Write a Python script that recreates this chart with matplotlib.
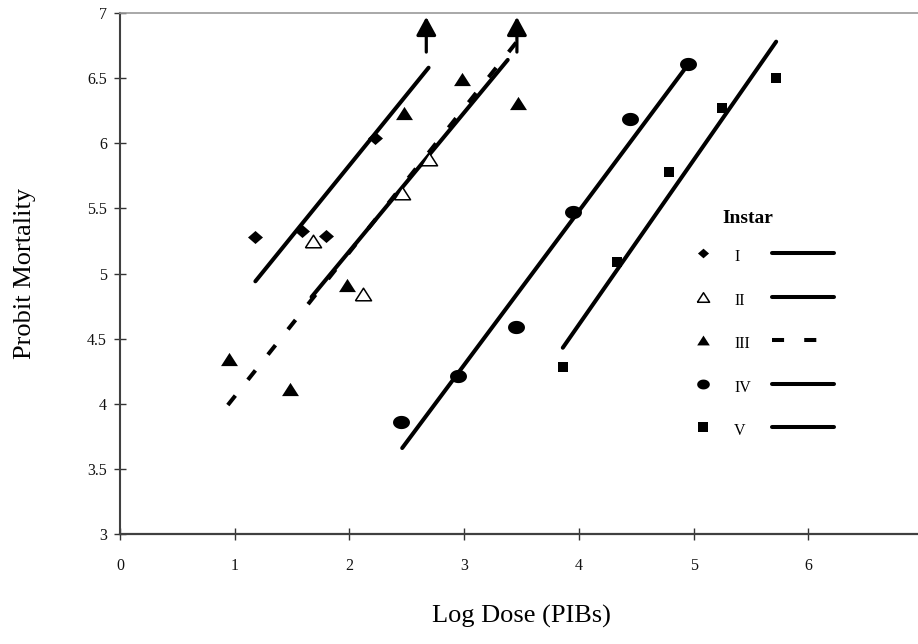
import logging

import numpy as np
import matplotlib as mp
mp.use("Agg")
from matplotlib import pyplot as plt

# --- data ------------------------------------------------------------------
instar_labels = ["I", "II", "III", "IV", "V"]

# observed points (log dose, probit mortality)
inst1_x = [1.18, 1.59, 1.80, 2.22]
inst1_y = [5.28, 5.33, 5.29, 6.04]
inst2_x = [1.68, 2.12, 2.46, 2.69]
inst2_y = [5.25, 4.84, 5.62, 5.88]
inst3_x = [0.95, 1.48, 1.98, 2.48, 2.98, 3.47]
inst3_y = [4.34, 4.11, 4.91, 6.23, 6.49, 6.31]
inst4_x = [2.45, 2.95, 3.45, 3.95, 4.45, 4.95]
inst4_y = [3.86, 4.21, 4.59, 5.47, 6.19, 6.61]
inst5_x = [3.86, 4.33, 4.79, 5.25, 5.72]
inst5_y = [4.28, 5.09, 5.78, 6.27, 6.50]

# fitted probit lines (end points)
fit1_x = [1.18, 2.69]
fit1_y = [4.94, 6.58]
fit2_x = [1.67, 3.38]
fit2_y = [4.82, 6.64]
fit3_x = [0.94, 3.46]
fit3_y = [3.99, 6.78]
fit4_x = [2.46, 4.94]
fit4_y = [3.66, 6.59]
fit5_x = [3.86, 5.72]
fit5_y = [4.43, 6.78]

# arrows: mortality beyond the plotted range
arrow_x = [2.67, 3.46]
arrow_y_from = 6.70
arrow_y_to = 6.97

x_ticks = [0, 1, 2, 3, 4, 5, 6, 7]
y_ticks = [3, 3.5, 4, 4.5, 5, 5.5, 6, 6.5, 7]

# --- marker shapes -----------------------------------------------------------
_t = np.linspace(0, 2 * np.pi, 61)
ELLIPSE = np.column_stack([np.cos(_t), 0.78 * np.sin(_t)])
DIAMOND = [(0, 0.87), (1, 0), (0, -0.87), (-1, 0), (0, 0.87)]
TRIANGLE = [(-1, -0.78), (1, -0.78), (0, 0.78), (-1, -0.78)]

LINE_W = 2.9
DASHES = (3, 5)


def series_styles():
    # (marker, plot size, legend size, face colour, edge width, dashed)
    return [
        (DIAMOND, 10.8, 8.0, "black", 0.0, False),
        (TRIANGLE, 11.6, 8.8, "white", 1.1, False),
        (TRIANGLE, 12.2, 9.1, "black", 0.0, True),
        (ELLIPSE, 12.2, 9.1, "black", 0.0, False),
        ("s", 7.9, 7.4, "black", 0.0, False),
    ]


def draw_fit(ax, x, y, dashed):
    if dashed:
        ax.plot(x, y, color="black", lw=LINE_W, dashes=DASHES,
                dash_capstyle="butt", zorder=2)
    else:
        ax.plot(x, y, color="black", lw=LINE_W, solid_capstyle="round", zorder=2)


def draw_legend(ax):
    styles = series_styles()
    ax.text(0.782, 0.605, "Instar", transform=ax.transAxes, ha="center",
            va="center", fontsize=14, fontweight="bold")
    row_y = 0.539
    step = 0.0835
    for i, (lab, st) in enumerate(zip(instar_labels, styles)):
        marker, _, leg_size, face, mew, dashed = st
        yy = row_y - i * step
        ax.plot([0.726], [yy], transform=ax.transAxes, marker=marker,
                ms=leg_size, mfc=face, mec="black", mew=mew, ls="none",
                clip_on=False)
        ax.text(0.765, yy - 0.008, lab, transform=ax.transAxes, ha="left",
                va="center", fontsize=11.5)
        xs = [0.812, 0.889]
        if dashed:
            ax.plot(xs, [yy, yy], transform=ax.transAxes, color="black",
                    lw=LINE_W, dashes=DASHES, dash_capstyle="butt")
        else:
            ax.plot(xs, [yy, yy], transform=ax.transAxes, color="black",
                    lw=LINE_W, solid_capstyle="round")


def main():
    log = logging.getLogger("main")
    plt.rcParams["font.family"] = ["Liberation Serif", "DejaVu Serif"]

    fig = plt.figure(figsize=(9.18, 6.44), dpi=100)
    ax = fig.add_axes([120 / 918, 110 / 644, 803 / 918, 521 / 644])

    points = [(inst1_x, inst1_y), (inst2_x, inst2_y), (inst3_x, inst3_y),
              (inst4_x, inst4_y), (inst5_x, inst5_y)]
    fits = [(fit1_x, fit1_y), (fit2_x, fit2_y), (fit3_x, fit3_y),
            (fit4_x, fit4_y), (fit5_x, fit5_y)]

    for (px, py), (fx, fy), st in zip(points, fits, series_styles()):
        marker, size, _, face, mew, dashed = st
        draw_fit(ax, fx, fy, dashed)
        ax.plot(px, py, ls="none", marker=marker, ms=size, mfc=face,
                mec="black", mew=mew, zorder=3)

    for xa in arrow_x:
        ax.annotate("", xy=(xa, arrow_y_to), xytext=(xa, arrow_y_from),
                    arrowprops=dict(arrowstyle="-|>,head_length=1.1,head_width=0.6",
                                    color="black", lw=2.3, shrinkA=0, shrinkB=0,
                                    mutation_scale=10))

    draw_legend(ax)

    ax.set_xlim(0, 7)
    ax.set_ylim(3, 7)
    ax.set_xticks(x_ticks)
    ax.set_yticks(y_ticks)
    ax.set_yticklabels([("%g" % v) for v in y_ticks])

    ax.spines["left"].set_color("#404040")
    ax.spines["left"].set_linewidth(1.5)
    ax.spines["bottom"].set_color("#404040")
    ax.spines["bottom"].set_linewidth(1.6)
    ax.spines["top"].set_color("#9a9a9a")
    ax.spines["top"].set_linewidth(1.2)
    ax.spines["right"].set_visible(False)

    ax.tick_params(axis="both", direction="inout", length=8.6, width=1.0,
                   color="#333333", labelsize=11.5, labelcolor="#111111")
    ax.tick_params(axis="x", pad=13)
    ax.tick_params(axis="y", pad=5)

    ax.set_xlabel("Log Dose (PIBs)", fontsize=19)
    ax.set_ylabel("Probit Mortality", fontsize=19)
    ax.xaxis.set_label_coords(0.5, -0.136)
    ax.yaxis.set_label_coords(-0.104, 0.5)

    fig.savefig("out.png", dpi=100)
    log.info("saved out.png")


if __name__ == "__main__":
    logging.basicConfig(level=logging.INFO)
    main()
